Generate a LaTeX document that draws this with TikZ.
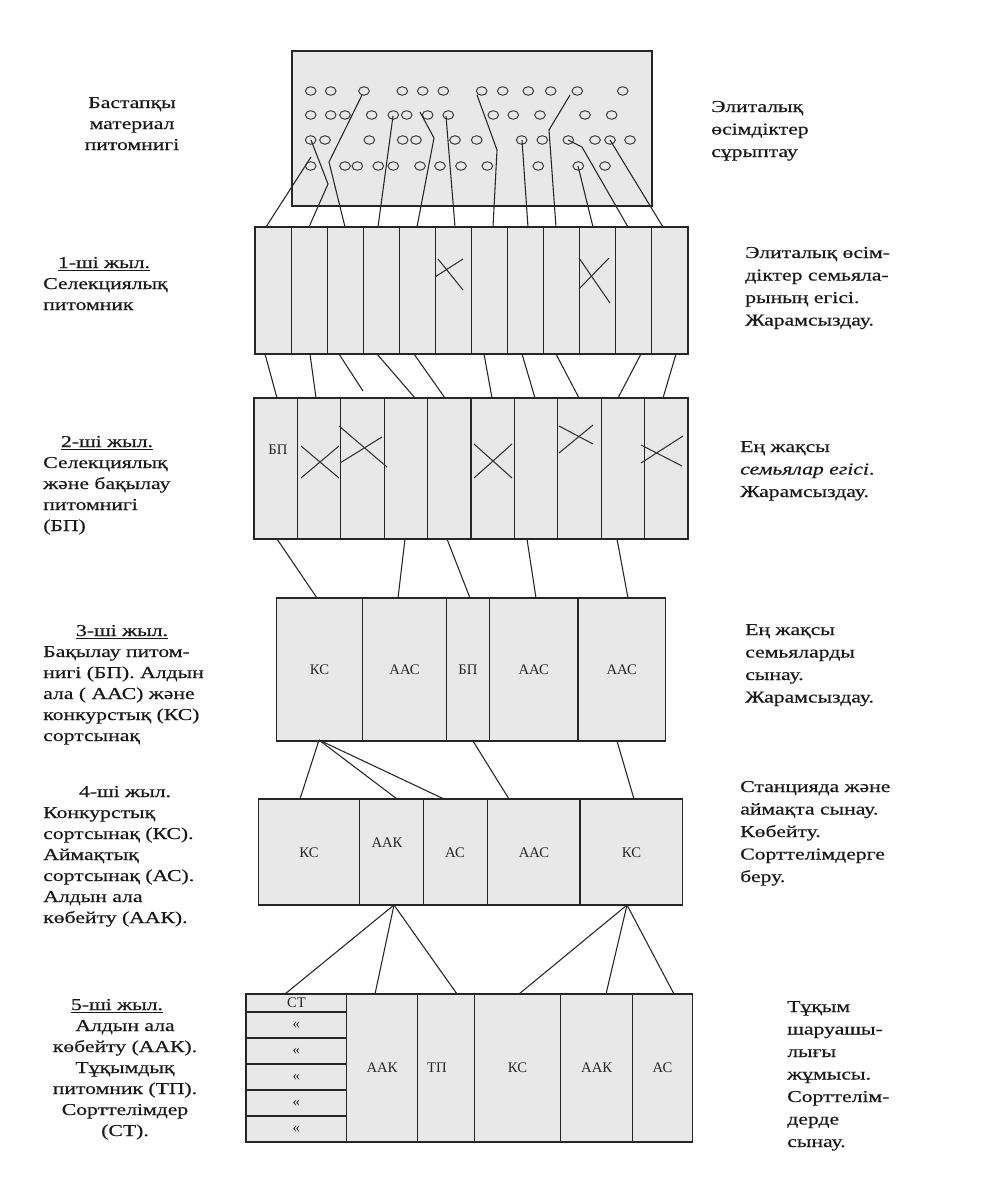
\documentclass[tikz,border=0pt]{standalone}
\usepackage{fontspec}
\setmainfont{Liberation Serif}
\newfontfamily\sidefont{Liberation Serif}[FakeStretch=1.3,FakeBold=0.4]
\newfontfamily\labfont{Liberation Serif}
\begin{document}
\begin{tikzpicture}[x=0.75pt,y=-0.75pt,
  box/.style={draw=black!85, fill=black!9, line width=0.8pt},
  divline/.style={draw=black!85, line width=0.8pt},
  conn/.style={draw=black!85, line width=0.8pt},
  cross/.style={draw=black!80, line width=0.8pt},
  dot/.style={draw=black!75, line width=0.75pt},
  side/.style={font=\sidefont\fontsize{12.5pt}{15.75pt}\selectfont, inner sep=0pt, text=black!90},
  rside/.style={font=\sidefont\fontsize{12.5pt}{16.875pt}\selectfont, inner sep=0pt, text=black!90, align=left, anchor=base west},
  lab/.style={font=\labfont\fontsize{11pt}{13pt}\selectfont, inner sep=0pt, text=black!85}]
\useasboundingbox (0,0) rectangle (994,1185);
\fill[white] (0,0) rectangle (994,1185);

% ---------- top box with circles
\draw[box] (292,51) rectangle (652,206);
\foreach \x in {310.7,330.7,364,402.3,422.7,443.3,481.7,502.7,528.3,550.7,577.3,622.7}
  \draw[dot] (\x,91) ellipse [x radius=4pt, y radius=3.2pt];
\foreach \x in {310.7,330.7,345,371.7,393.3,406.7,427.7,448.3,493.3,513.3,540,585,611.7}
  \draw[dot] (\x,115) ellipse [x radius=4pt, y radius=3.2pt];
\foreach \x in {310.7,325,369.3,402.7,416,455,476.7,521.7,542.3,568.3,595,610,630}
  \draw[dot] (\x,140) ellipse [x radius=4pt, y radius=3.2pt];
\foreach \x in {310.7,345,357.3,378.3,393.3,420,440,461,487.3,538.3,578.3,605}
  \draw[dot] (\x,166) ellipse [x radius=4pt, y radius=3.2pt];

% ---------- row 1
\draw[box] (255,227) rectangle (688,354);
\foreach \i in {1,...,11} \draw[divline] ({255+36.08*\i},227) -- ({255+36.08*\i},354);
\draw[cross] (435,277) -- (463,259);
\draw[cross] (438,259) -- (463,290);
\draw[cross] (579,289) -- (609,258);
\draw[cross] (579,258) -- (610,303);

% ---------- row 2
\draw[box] (254,398) rectangle (688,539);
\foreach \i in {1,...,9} \draw[divline] ({254+43.4*\i},398) -- ({254+43.4*\i},539);
\draw[cross] (301,446) -- (339,478);
\draw[cross] (301,478) -- (339,446);
\draw[cross] (339,426) -- (387,467);
\draw[cross] (340,463) -- (382,437);
\draw[cross] (474,444) -- (512,478);
\draw[cross] (474,478) -- (512,444);
\draw[cross] (559,453) -- (593,425);
\draw[cross] (559,426) -- (593,444);
\draw[cross] (641,445) -- (682,466);
\draw[cross] (641,463) -- (683,436);

% ---------- row 3
\draw[box] (276.5,598) rectangle (665.5,741);
\foreach \x in {362.5,446.7,489.3,578} \draw[divline] (\x,598) -- (\x,741);

% ---------- row 4
\draw[box] (258.3,799) rectangle (682.7,905);
\foreach \x in {359.7,423.7,487.7,580} \draw[divline] (\x,799) -- (\x,905);

% ---------- row 5
\draw[box] (246,994) rectangle (692.3,1142);
\foreach \x in {346.7,417.7,474.3,560.7,632.7} \draw[divline] (\x,994) -- (\x,1142);
\foreach \y in {1012,1038,1064,1090,1116} \draw[divline] (246,\y) -- (346.7,\y);

% ---------- named connector points
\foreach \n/\x/\y in {a0/311/157,a1/266/227,
  b0/311/140,b1/328/184,b2/309/227,
  c0/362/95,c1/329/162,c2/345/227,
  d0/393/116,d1/378/227,
  e0/420/112,e1/434/138,e2/417/227,
  f0/446/116,f1/455/227,
  g0/477/95,g1/497/150,g2/493/227,
  h0/522/140,h1/528/227,
  i0/570/95,i1/549/130,i2/556/227,
  j0/578/166,j1/593/227,
  k0/568/140,k1/582/147,k2/628/227,
  m0/610/140,m1/663/227,
  s1/265/354,t1/277/398,
  s2/310/354,t2/316/398,
  s3/339/354,t3/363/391,
  s4/377/354,t4/415/398,
  s5/414/354,t5/445/398,
  s6/484/354,t6/492/398,
  s7/522/354,t7/535/398,
  s8/556/354,t8/579/398,
  s9/641/354,t9/618/398,
  s10/676/354,t10/663/398,
  u1/277/539,v1/317/598,
  u2/405/539,v2/398/598,
  u3/447/539,v3/470/598,
  u4/527/539,v4/536/598,
  u5/617/539,v5/628/598,
  w0/319/740,x1/300/799,x2/397/799,x3/444/799,
  w4/473/741,x4/509/799,
  w5/617/741,x5/634/799,
  y0/394/905,z1/285/994,z2/375/994,z3/457/994,
  y4/627/905,z4/519/994,z5/606/994,z6/674/994}
  {\coordinate (\n) at (\x,\y);}

% top box -> row 1
\draw[conn] (a0) -- (a1);
\draw[conn] (b0) -- (b1) -- (b2);
\draw[conn] (c0) -- (c1) -- (c2);
\draw[conn] (d0) -- (d1);
\draw[conn] (e0) -- (e1) -- (e2);
\draw[conn] (f0) -- (f1);
\draw[conn] (g0) -- (g1) -- (g2);
\draw[conn] (h0) -- (h1);
\draw[conn] (i0) -- (i1) -- (i2);
\draw[conn] (j0) -- (j1);
\draw[conn] (k0) -- (k1) -- (k2);
\draw[conn] (m0) -- (m1);
% row 1 -> row 2
\foreach \k in {1,...,10} \draw[conn] (s\k) -- (t\k);
% row 2 -> row 3
\foreach \k in {1,...,5} \draw[conn] (u\k) -- (v\k);
% row 3 -> row 4
\draw[conn] (w0) -- (x1);
\draw[conn] (w0) -- (x2);
\draw[conn] (w0) -- (x3);
\draw[conn] (w4) -- (x4);
\draw[conn] (w5) -- (x5);
% row 4 -> row 5
\draw[conn] (y0) -- (z1);
\draw[conn] (y0) -- (z2);
\draw[conn] (y0) -- (z3);
\draw[conn] (y4) -- (z4);
\draw[conn] (y4) -- (z5);
\draw[conn] (y4) -- (z6);

% ---------- box labels
\node[lab] (bp2) at (278,450) {БП};
\node[lab] (r3a) at (319.5,670) {КС};
\node[lab] (r3b) at (404.6,670) {ААС};
\node[lab] (r3c) at (468,670) {БП};
\node[lab] (r3d) at (533.7,670) {ААС};
\node[lab] (r3e) at (621.7,670) {ААС};
\node[lab] (r4a) at (309,853) {КС};
\node[lab] (r4b) at (387,843) {ААК};
\node[lab] (r4c) at (455,853) {АС};
\node[lab] (r4d) at (534,853) {ААС};
\node[lab] (r4e) at (631.5,853) {КС};
\node[lab] (st0) at (296.4,1003) {СТ};
\node[lab] (st1) at (296.4,1025) {«};
\node[lab] (st2) at (296.4,1051) {«};
\node[lab] (st3) at (296.4,1077) {«};
\node[lab] (st4) at (296.4,1103) {«};
\node[lab] (st5) at (296.4,1129) {«};
\node[lab] (r5a) at (382,1068) {ААК};
\node[lab] (r5b) at (437,1068) {ТП};
\node[lab] (r5c) at (517.5,1068) {КС};
\node[lab] (r5d) at (596.7,1068) {ААК};
\node[lab] (r5e) at (662.5,1068) {АС};

% ---------- left texts (anchor base = baseline of the last line)
\node[side, align=center, anchor=base] (l1) at (132,150) {Бастапқы\\материал\\питомнигі};
\node[side, anchor=base] (l2h) at (104,268) {\underline{1-ші жыл.}};
\node[side, align=left, anchor=base west] (l2b) at (43,310) {Селекциялық\\питомник};
\node[side, anchor=base] (l3h) at (107,447) {\underline{2-ші жыл.}};
\node[side, align=left, anchor=base west] (l3b) at (43,531) {Селекциялық\\және бақылау\\питомнигі\\(БП)};
\node[side, anchor=base] (l4h) at (122,636) {\underline{3-ші жыл.}};
\node[side, align=left, anchor=base west] (l4b) at (43,741) {Бақылау питом-\\нигі (БП). Алдын\\ала ( ААС) және\\конкурстық (КС)\\сортсынақ};
\node[side, anchor=base] (l5h) at (125,797) {4-ші жыл.};
\node[side, align=left, anchor=base west] (l5b) at (43,923) {Конкурстық\\сортсынақ (КС).\\Аймақтық\\сортсынақ (АС).\\Алдын ала\\көбейту (ААК).};
\node[side, anchor=base] (l6h) at (117,1010) {\underline{5-ші жыл.}};
\node[side, align=center, anchor=base] (l6b) at (125,1136) {Алдын ала\\көбейту (ААК).\\Тұқымдық\\питомник (ТП).\\Сорттелімдер\\(СТ).};

% ---------- right texts
\node[rside] (rt1) at (711,157) {Элиталық\\өсімдіктер\\сұрыптау};
\node[rside] (rt2) at (745,325.5) {Элиталық өсім-\\діктер семьяла-\\рының егісі.\\Жарамсыздау.};
\node[rside] (rt3) at (740,497) {Ең жақсы\\\textit{семьялар егісі}.\\Жарамсыздау.};
\node[rside] (rt4) at (745,702.5) {Ең жақсы\\семьяларды\\сынау.\\Жарамсыздау.};
\node[rside] (rt5) at (740,882) {Станцияда және\\аймақта сынау.\\Көбейту.\\Сорттелімдерге\\беру.};
\node[rside] (rt6) at (787,1147) {Тұқым\\шаруашы-\\лығы\\жұмысы.\\Сорттелім-\\дерде\\сынау.};
\end{tikzpicture}
\end{document}
